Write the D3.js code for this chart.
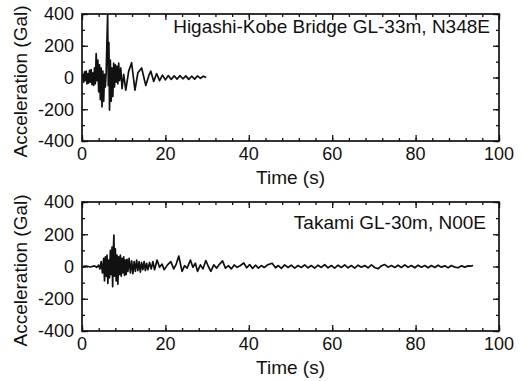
<!DOCTYPE html>
<html>
<head>
<meta charset="utf-8">
<script src="https://cdn.jsdelivr.net/npm/d3@7"></script>
<style>
  body { margin: 0; background: #fff; }
  svg text { font-family: "Liberation Sans", Arial, sans-serif; fill: #111; }
</style>
</head>
<body>
<svg id="chart" width="525" height="381"></svg>
<script>
// [time (s), acceleration (Gal)]
const kobeRecord = [
  [0, 0], [0.2, 20], [0.4, -30], [0.6, 35], [0.8, -20], [1.0, 40], [1.2, -40], [1.4, 25],
  [1.6, -35], [1.8, 45], [2.0, -30], [2.2, 50], [2.4, -45], [2.6, 30], [2.8, -50], [3.0, 60],
  [3.2, -40], [3.4, 150], [3.6, -20], [3.8, 110], [4.0, -90], [4.2, 80], [4.4, -140], [4.6, 60],
  [4.8, -185], [5.0, 40], [5.2, -150], [5.4, 20], [5.6, -60], [5.8, 30], [6.0, 250], [6.15, 400],
  [6.3, -50], [6.45, 220], [6.6, -205], [6.8, 110], [7.0, -150], [7.2, 60], [7.4, -120], [7.6, 90],
  [7.8, -60], [8.0, 80], [8.2, -30], [8.4, 70], [8.6, -40], [8.8, 90], [9.0, -20], [9.3, 60],
  [9.6, -70], [10.0, 20], [10.5, -80], [11.2, 40], [11.9, 93], [12.7, -79], [13.4, 30], [14.3, 60],
  [15.3, -50], [16.0, 10], [16.5, 40], [17.2, -25], [17.9, 25], [18.6, -20], [19.3, 15], [20.0, -15],
  [20.7, 12], [21.4, -12], [22.1, 10], [22.8, -10], [23.5, 12], [24.2, -8], [24.9, 10], [25.6, -12],
  [26.3, 8], [27.0, -10], [27.7, 10], [28.4, -5], [29.1, 8], [29.8, 0]
]

const takamiRecord = [
  [0, 0], [1, 3], [2, -3], [3, 4], [3.5, -5], [4.0, 8], [4.3, -15], [4.6, 30], [4.9, -40],
  [5.2, 50], [5.4, -90], [5.6, 60], [5.8, -60], [6.0, 70], [6.2, -105], [6.4, 40], [6.6, -70],
  [6.8, 100], [7.0, -50], [7.2, 120], [7.35, -125], [7.5, 80], [7.65, 195], [7.8, -60], [8.0, 110],
  [8.2, -90], [8.4, 70], [8.6, -110], [8.8, 60], [9.0, -50], [9.2, 70], [9.4, -60], [9.6, 50],
  [9.8, -40], [10.0, 60], [10.2, -55], [10.4, 40], [10.6, -50], [10.8, 45], [11.0, -30], [11.3, 50],
  [11.6, -40], [11.9, 35], [12.2, -45], [12.5, 30], [12.8, -30], [13.1, 40], [13.4, -25], [13.7, 30],
  [14.0, -35], [14.3, 25], [14.6, -20], [14.9, 30], [15.2, -25], [15.5, 20], [15.8, -20], [16.2, 25],
  [16.6, -15], [17.0, 30], [17.4, -20], [18.0, 40], [18.6, -5], [19.2, 15], [19.7, -20], [20.5, 10],
  [21.3, 30], [22.0, -15], [22.6, 15], [23.2, 65], [24.0, -30], [24.6, 5], [25.2, -10], [26.0, 40],
  [26.6, -5], [27.2, 20], [27.7, -30], [28.4, 10], [29.0, -15], [29.7, 37], [30.3, 0], [30.9, -30],
  [31.6, 10], [32.3, -10], [33.0, 15], [33.7, 35], [34.4, -10], [35.1, 5], [35.8, -15], [36.5, 10],
  [37.2, -5], [37.9, 5], [38.8, 22], [39.5, -8], [40.2, 12], [40.9, -12], [41.6, 8], [42.3, -10],
  [43.0, 6], [43.7, -6], [44.5, 10], [45.6, 20], [46.4, -8], [47.1, 6], [47.8, -12], [48.6, 10],
  [49.4, -6], [50.2, 8], [51.0, -10], [51.8, 6], [52.6, -6], [53.4, 10], [54.2, -8], [55.0, 6],
  [55.8, -10], [56.6, 8], [57.4, -6], [58.2, 12], [59.0, -8], [59.8, 6], [60.6, -10], [61.4, 8],
  [62.2, -6], [63.0, 10], [63.8, -8], [64.6, 6], [65.4, -10], [66.2, 8], [67.0, -4], [67.8, 6],
  [68.6, -8], [69.4, 10], [70.2, -6], [71.0, -14], [71.8, 4], [72.6, 12], [73.4, -4], [74.2, 6],
  [75.0, -6], [75.8, 8], [76.6, -6], [77.4, 10], [78.2, -5], [79.0, 6], [79.8, -8], [80.6, 8],
  [81.4, -4], [82.2, 6], [83.0, -8], [83.8, 6], [84.6, -6], [85.4, 8], [86.2, -4], [87.0, 4],
  [87.8, -8], [88.6, 6], [89.4, -4], [90.2, -8], [91.0, 4], [91.8, -4], [92.6, 4], [93.2, 2], [93.8, 6]
]

const xTicks = [0, 20, 40, 60, 80, 100]
const yTicks = [-400, -200, 0, 200, 400]

const LEFT = 82
const RIGHT = 499

const panels = [
  { record: kobeRecord, label: 'Higashi-Kobe Bridge GL-33m, N348E', top: 14, bottom: 141, labelX: 490, labelY: 33 },
  { record: takamiRecord, label: 'Takami GL-30m, N00E', top: 202, bottom: 331, labelX: 486, labelY: 229 },
]

const svg = d3.select('#chart')

panels.forEach((p) => {
  const x = d3.scaleLinear().domain([0, 100]).range([LEFT, RIGHT])
  const y = d3.scaleLinear().domain([-400, 400]).range([p.bottom, p.top])
  const g = svg.append('g')

  // trace, clipped to the frame like the original
  const clipId = 'clip' + p.top
  g.append('clipPath').attr('id', clipId)
    .append('rect').attr('x', LEFT).attr('y', p.top).attr('width', RIGHT - LEFT).attr('height', p.bottom - p.top)

  g.append('path')
    .datum(p.record)
    .attr('clip-path', `url(#${clipId})`)
    .attr('fill', 'none')
    .attr('stroke', '#111')
    .attr('stroke-width', 1.7)
    .attr('stroke-linejoin', 'round')
    .attr('d', d3.line().x((d) => x(d[0])).y((d) => y(d[1])))

  // inward ticks on all four sides
  const xMinor = d3.range(0, 101, 4)
  const yMinor = d3.range(-400, 401, 100)
  const axes = [
    [() => d3.axisBottom(x), `translate(0,${p.bottom})`, xMinor, xTicks],
    [() => d3.axisTop(x), `translate(0,${p.top})`, xMinor, xTicks],
    [() => d3.axisLeft(y), `translate(${LEFT},0)`, yMinor, yTicks],
    [() => d3.axisRight(y), `translate(${RIGHT},0)`, yMinor, yTicks],
  ]
  axes.forEach(([make, tr, minor, major]) => {
    g.append('g').attr('transform', tr)
      .call(make().tickValues(minor).tickSizeInner(-3).tickSizeOuter(0).tickFormat(''))
    g.append('g').attr('transform', tr)
      .call(make().tickValues(major).tickSizeInner(-6).tickSizeOuter(0).tickFormat(''))
  })
  g.selectAll('.domain').remove()
  g.selectAll('.tick line').attr('stroke', '#111').attr('stroke-width', 1.3)

  g.append('rect')
    .attr('x', LEFT).attr('y', p.top)
    .attr('width', RIGHT - LEFT).attr('height', p.bottom - p.top)
    .attr('fill', 'none').attr('stroke', '#111').attr('stroke-width', 1.7)

  // tick labels
  g.selectAll('.xl').data(xTicks).enter().append('text')
    .attr('x', (d) => x(d)).attr('y', p.bottom + 19)
    .attr('text-anchor', 'middle').attr('font-size', 18)
    .text((d) => d)
  g.selectAll('.yl').data(yTicks).enter().append('text')
    .attr('x', LEFT - 8).attr('y', (d) => y(d)).attr('dy', '0.35em')
    .attr('text-anchor', 'end').attr('font-size', 18)
    .text((d) => d)

  g.append('text')
    .attr('x', (LEFT + RIGHT) / 2).attr('y', p.bottom + 43)
    .attr('text-anchor', 'middle').attr('font-size', 19)
    .text('Time (s)')

  g.append('text')
    .attr('transform', `translate(27,${(p.top + p.bottom) / 2 + 4}) rotate(-90)`)
    .attr('text-anchor', 'middle').attr('font-size', 19)
    .text('Acceleration (Gal)')

  g.append('text')
    .attr('x', p.labelX).attr('y', p.labelY)
    .attr('text-anchor', 'end').attr('font-size', 19)
    .text(p.label)
})
</script>
</body>
</html>
